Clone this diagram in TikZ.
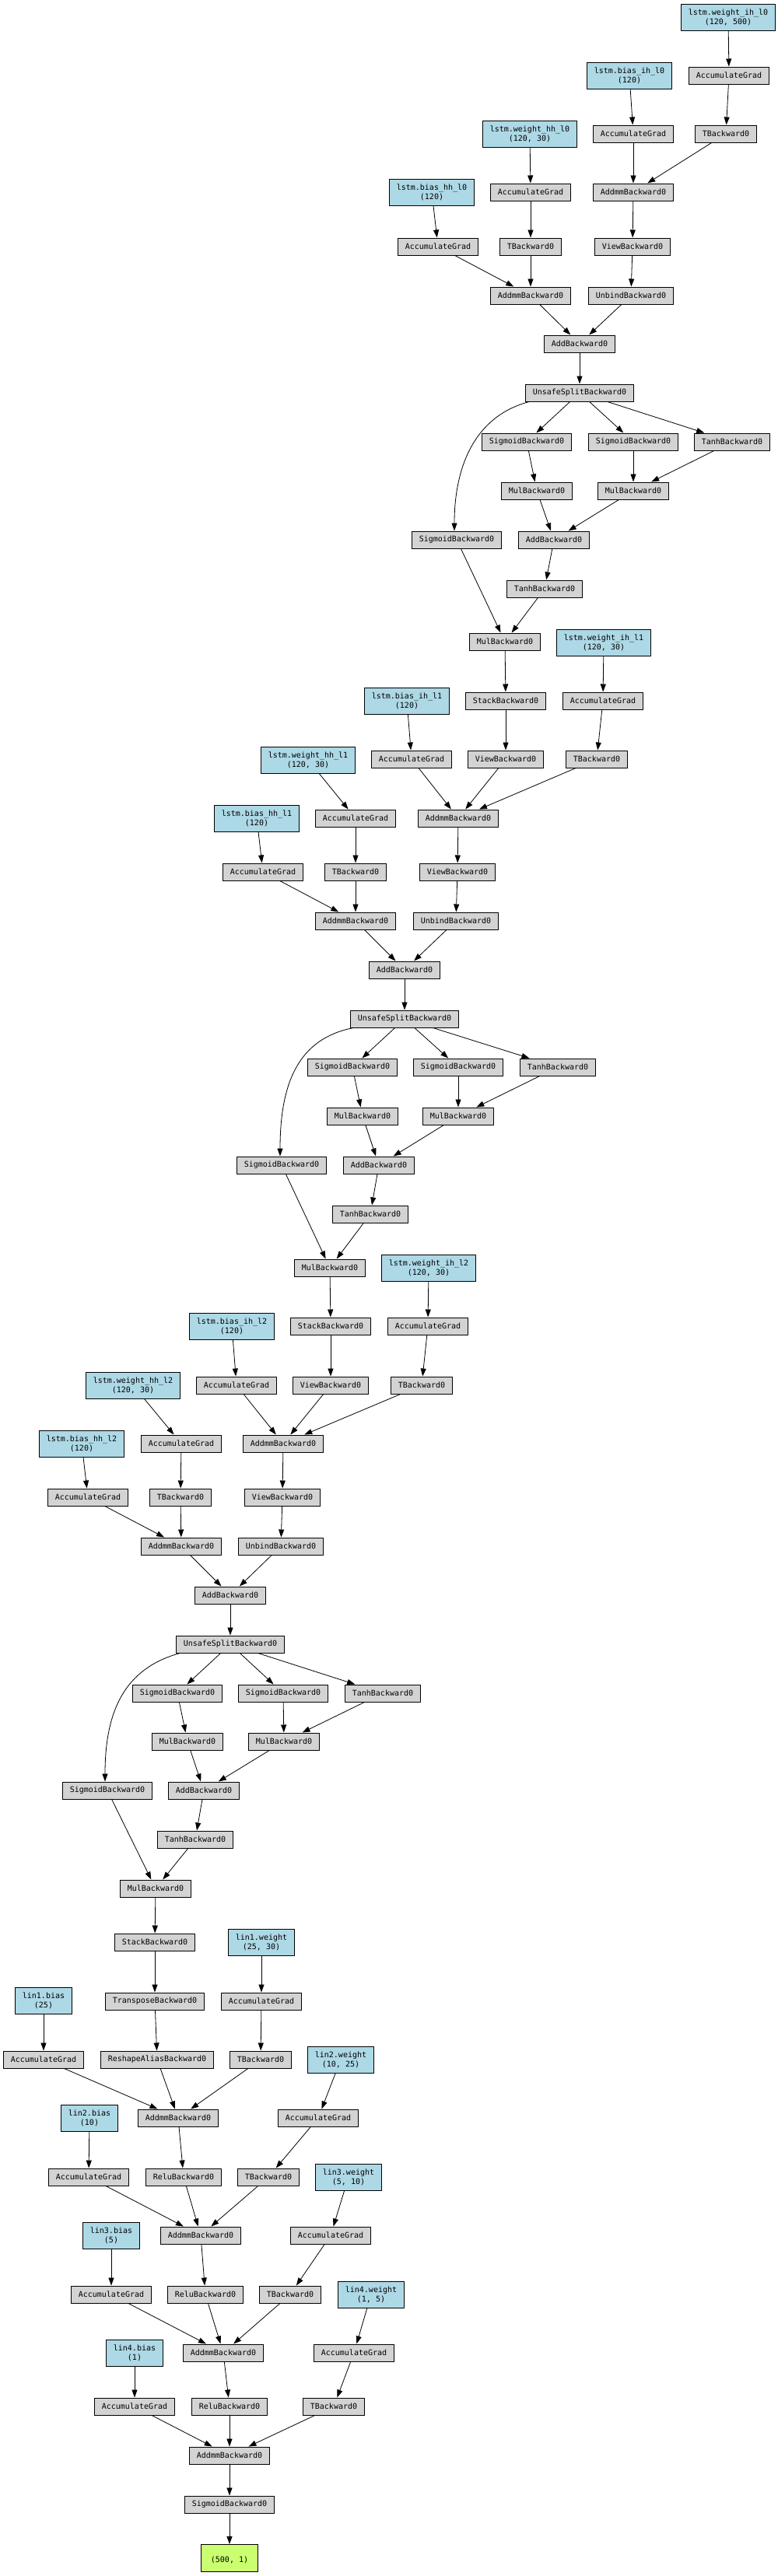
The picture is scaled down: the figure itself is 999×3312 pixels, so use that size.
\documentclass[tikz,border=0pt]{standalone}
\usepackage{fontspec}
\newfontfamily\gvmono{DejaVu Sans Mono}
\usetikzlibrary{arrows.meta}
\definecolor{gvgray}{HTML}{D3D3D3}
\definecolor{gvblue}{HTML}{ADD8E6}
\definecolor{gvgreen}{HTML}{CAFF70}
\begin{document}
\begin{tikzpicture}[x=1pt,y=-1pt,
  gvbase/.style={draw=black, line width=1pt, font=\gvmono\fontsize{10}{12}\selectfont, inner xsep=9pt, inner ysep=2pt, anchor=center},
  gnode/.style={gvbase, fill=gvgray, minimum height=22pt},
  pnode/.style={gvbase, fill=gvblue, minimum height=34pt, align=center},
  onode/.style={gvbase, fill=gvgreen, minimum height=35pt, minimum width=73pt, align=center},
  conn/.style={draw=black, line width=0.8pt, -{Triangle[length=10pt,width=7pt]}}]
\fill[white] (0,0) rectangle (999,3312);
\useasboundingbox (0,0) rectangle (999,3312);
% ---------- layer 0
\node[pnode] (wih0) at (936,22) {lstm.weight\_ih\_l0\\(120, 500)};
\node[gnode] (agwih0) at (937,97) {AccumulateGrad};
\node[pnode] (bih0) at (809,97) {lstm.bias\_ih\_l0\\(120)};
\node[gnode] (tih0) at (933,172) {TBackward0};
\node[gnode] (agbih0) at (814,172) {AccumulateGrad};
\node[pnode] (whh0) at (681,172) {lstm.weight\_hh\_l0\\(120, 30)};
\node[pnode] (bhh0) at (555,247) {lstm.bias\_hh\_l0\\(120)};
\node[gnode] (agwhh0) at (682,247) {AccumulateGrad};
\node[gnode] (addmmih0) at (814,247) {AddmmBackward0};
\node[gnode] (agbhh0) at (563,317) {AccumulateGrad};
\node[gnode] (thh0) at (682,317) {TBackward0};
\node[gnode] (view0) at (813,317) {ViewBackward0};
\node[gnode] (addmmhh0) at (682,380) {AddmmBackward0};
\node[gnode] (unbind0) at (811,380) {UnbindBackward0};
\node[gnode] (add0) at (745,442) {AddBackward0};
\node[gnode] (split0) at (745,505) {UnsafeSplitBackward0};
\node[gnode] (sga0) at (677,568) {SigmoidBackward0};
\node[gnode] (sgb0) at (814,568) {SigmoidBackward0};
\node[gnode] (tanhc0) at (941,568) {TanhBackward0};
\node[gnode] (mula0) at (690,631) {MulBackward0};
\node[gnode] (mulb0) at (814,631) {MulBackward0};
\node[gnode] (sgo0) at (587,694) {SigmoidBackward0};
\node[gnode] (addc0) at (712,694) {AddBackward0};
\node[gnode] (tanhh0) at (700,757) {TanhBackward0};
\node[gnode] (mulh0) at (649,825) {MulBackward0};
% ---------- layer 1
\node[pnode] (wih1) at (776,826) {lstm.weight\_ih\_l1\\(120, 30)};
\node[gnode] (stack0) at (650,901) {StackBackward0};
\node[gnode] (agwih1) at (775,901) {AccumulateGrad};
\node[pnode] (bih1) at (523,901) {lstm.bias\_ih\_l1\\(120)};
\node[gnode] (agbih1) at (529,976) {AccumulateGrad};
\node[gnode] (view1) at (650,976) {ViewBackward0};
\node[gnode] (tih1) at (767,976) {TBackward0};
\node[pnode] (whh1) at (396,977) {lstm.weight\_hh\_l1\\(120, 30)};
\node[pnode] (bhh1) at (330,1052) {lstm.bias\_hh\_l1\\(120)};
\node[gnode] (agwhh1) at (457,1052) {AccumulateGrad};
\node[gnode] (addmmih1) at (589,1052) {AddmmBackward0};
\node[gnode] (agbhh1) at (338,1121) {AccumulateGrad};
\node[gnode] (thh1) at (457,1121) {TBackward0};
\node[gnode] (view1b) at (588,1121) {ViewBackward0};
\node[gnode] (addmmhh1) at (457,1184) {AddmmBackward0};
\node[gnode] (unbind1) at (586,1184) {UnbindBackward0};
\node[gnode] (add1) at (520,1247) {AddBackward0};
\node[gnode] (split1) at (520,1310) {UnsafeSplitBackward0};
\node[gnode] (sga1) at (453,1372) {SigmoidBackward0};
\node[gnode] (sgb1) at (589,1372) {SigmoidBackward0};
\node[gnode] (tanhc1) at (717,1372) {TanhBackward0};
\node[gnode] (mula1) at (466,1435) {MulBackward0};
\node[gnode] (mulb1) at (589,1435) {MulBackward0};
\node[gnode] (sgo1) at (362,1498) {SigmoidBackward0};
\node[gnode] (addc1) at (487,1498) {AddBackward0};
\node[gnode] (tanhh1) at (476,1561) {TanhBackward0};
\node[gnode] (mulh1) at (424,1630) {MulBackward0};
% ---------- layer 2
\node[pnode] (wih2) at (551,1630) {lstm.weight\_ih\_l2\\(120, 30)};
\node[pnode] (bih2) at (298,1705) {lstm.bias\_ih\_l2\\(120)};
\node[gnode] (stack1) at (425,1705) {StackBackward0};
\node[gnode] (agwih2) at (550,1705) {AccumulateGrad};
\node[gnode] (agbih2) at (304,1781) {AccumulateGrad};
\node[gnode] (view2) at (425,1781) {ViewBackward0};
\node[gnode] (tih2) at (542,1781) {TBackward0};
\node[pnode] (whh2) at (171,1781) {lstm.weight\_hh\_l2\\(120, 30)};
\node[pnode] (bhh2) at (105,1856) {lstm.bias\_hh\_l2\\(120)};
\node[gnode] (agwhh2) at (233,1856) {AccumulateGrad};
\node[gnode] (addmmih2) at (364,1856) {AddmmBackward0};
\node[gnode] (agbhh2) at (113,1925) {AccumulateGrad};
\node[gnode] (thh2) at (232,1925) {TBackward0};
\node[gnode] (view2b) at (363,1925) {ViewBackward0};
\node[gnode] (addmmhh2) at (233,1988) {AddmmBackward0};
\node[gnode] (unbind2) at (361,1988) {UnbindBackward0};
\node[gnode] (add2) at (296,2051) {AddBackward0};
\node[gnode] (split2) at (296,2114) {UnsafeSplitBackward0};
\node[gnode] (sga2) at (228,2177) {SigmoidBackward0};
\node[gnode] (sgb2) at (364,2177) {SigmoidBackward0};
\node[gnode] (tanhc2) at (492,2177) {TanhBackward0};
\node[gnode] (mula2) at (241,2239) {MulBackward0};
\node[gnode] (mulb2) at (365,2239) {MulBackward0};
\node[gnode] (sgo2) at (138,2302) {SigmoidBackward0};
\node[gnode] (addc2) at (262,2302) {AddBackward0};
\node[gnode] (tanhh2) at (251,2365) {TanhBackward0};
\node[gnode] (mulh2) at (200,2428) {MulBackward0};
% ---------- linear layers
\node[gnode] (stack2) at (199,2497) {StackBackward0};
\node[pnode] (l1w) at (336,2497) {lin1.weight\\(25, 30)};
\node[pnode] (l1b) at (56,2572) {lin1.bias\\(25)};
\node[gnode] (transp) at (199,2573) {TransposeBackward0};
\node[gnode] (agl1w) at (336,2573) {AccumulateGrad};
\node[gnode] (agl1b) at (56,2648) {AccumulateGrad};
\node[gnode] (reshape) at (202,2648) {ReshapeAliasBackward0};
\node[gnode] (tl1) at (335,2648) {TBackward0};
\node[pnode] (l2w) at (438,2648) {lin2.weight\\(10, 25)};
\node[pnode] (l2b) at (115,2723) {lin2.bias\\(10)};
\node[gnode] (addmm1) at (229,2723) {AddmmBackward0};
\node[gnode] (agl2w) at (409,2723) {AccumulateGrad};
\node[gnode] (agl2b) at (114,2799) {AccumulateGrad};
\node[gnode] (relu1) at (236,2799) {ReluBackward0};
\node[gnode] (tl2) at (345,2799) {TBackward0};
\node[pnode] (l3w) at (448,2799) {lin3.weight\\(5, 10)};
\node[pnode] (l3b) at (143,2874) {lin3.bias\\(5)};
\node[gnode] (addmm2) at (258,2874) {AddmmBackward0};
\node[gnode] (agl3w) at (425,2874) {AccumulateGrad};
\node[gnode] (agl3b) at (143,2950) {AccumulateGrad};
\node[gnode] (relu2) at (264,2950) {ReluBackward0};
\node[gnode] (tl3) at (373,2950) {TBackward0};
\node[pnode] (l4w) at (477,2950) {lin4.weight\\(1, 5)};
\node[pnode] (l4b) at (173,3025) {lin4.bias\\(1)};
\node[gnode] (addmm3) at (287,3025) {AddmmBackward0};
\node[gnode] (agl4w) at (455,3025) {AccumulateGrad};
\node[gnode] (agl4b) at (173,3094) {AccumulateGrad};
\node[gnode] (relu3) at (295,3094) {ReluBackward0};
\node[gnode] (tl4) at (429,3094) {TBackward0};
\node[gnode] (addmm4) at (295,3157) {AddmmBackward0};
\node[gnode] (sigout) at (295,3220) {SigmoidBackward0};
\node[onode] (out) at (295,3289) {\mbox{}\\(500, 1)};
% ---------- straight edges
\foreach \a/\b in {wih0/agwih0, agwih0/tih0, tih0/addmmih0, bih0/agbih0, agbih0/addmmih0,
  whh0/agwhh0, agwhh0/thh0, thh0/addmmhh0, bhh0/agbhh0, agbhh0/addmmhh0,
  addmmih0/view0, view0/unbind0, unbind0/add0, addmmhh0/add0, add0/split0,
  split0/sga0, split0/sgb0, split0/tanhc0, sga0/mula0, sgb0/mulb0, tanhc0/mulb0,
  mula0/addc0, mulb0/addc0, addc0/tanhh0, sgo0/mulh0, tanhh0/mulh0, mulh0/stack0,
  wih1/agwih1, agwih1/tih1, tih1/addmmih1, bih1/agbih1, agbih1/addmmih1, stack0/view1, view1/addmmih1,
  whh1/agwhh1, agwhh1/thh1, thh1/addmmhh1, bhh1/agbhh1, agbhh1/addmmhh1,
  addmmih1/view1b, view1b/unbind1, unbind1/add1, addmmhh1/add1, add1/split1,
  split1/sga1, split1/sgb1, split1/tanhc1, sga1/mula1, sgb1/mulb1, tanhc1/mulb1,
  mula1/addc1, mulb1/addc1, addc1/tanhh1, sgo1/mulh1, tanhh1/mulh1, mulh1/stack1,
  wih2/agwih2, agwih2/tih2, tih2/addmmih2, bih2/agbih2, agbih2/addmmih2, stack1/view2, view2/addmmih2,
  whh2/agwhh2, agwhh2/thh2, thh2/addmmhh2, bhh2/agbhh2, agbhh2/addmmhh2,
  addmmih2/view2b, view2b/unbind2, unbind2/add2, addmmhh2/add2, add2/split2,
  split2/sga2, split2/sgb2, split2/tanhc2, sga2/mula2, sgb2/mulb2, tanhc2/mulb2,
  mula2/addc2, mulb2/addc2, addc2/tanhh2, sgo2/mulh2, tanhh2/mulh2, mulh2/stack2,
  stack2/transp, transp/reshape, reshape/addmm1, l1b/agl1b, agl1b/addmm1,
  l1w/agl1w, agl1w/tl1, tl1/addmm1,
  l2w/agl2w, agl2w/tl2, tl2/addmm2, l2b/agl2b, agl2b/addmm2, addmm1/relu1, relu1/addmm2,
  l3w/agl3w, agl3w/tl3, tl3/addmm3, l3b/agl3b, agl3b/addmm3, addmm2/relu2, relu2/addmm3,
  l4w/agl4w, agl4w/tl4, tl4/addmm4, l4b/agl4b, agl4b/addmm4, addmm3/relu3, relu3/addmm4,
  addmm4/sigout, sigout/out}
  \draw[conn] (\a) -- (\b);
% ---------- curved edges
\draw[conn] ([xshift=5pt]split0.south west) .. controls (610,535) and (584,600) .. ([xshift=-3pt]sgo0.north);
\draw[conn] ([xshift=4pt]split1.south west) .. controls (385,1335) and (360,1390) .. ([xshift=-2pt]sgo1.north);
\draw[conn] ([xshift=5pt]split2.south west) .. controls (160,2145) and (135,2200) .. ([xshift=-3pt]sgo2.north);
\end{tikzpicture}
\end{document}
